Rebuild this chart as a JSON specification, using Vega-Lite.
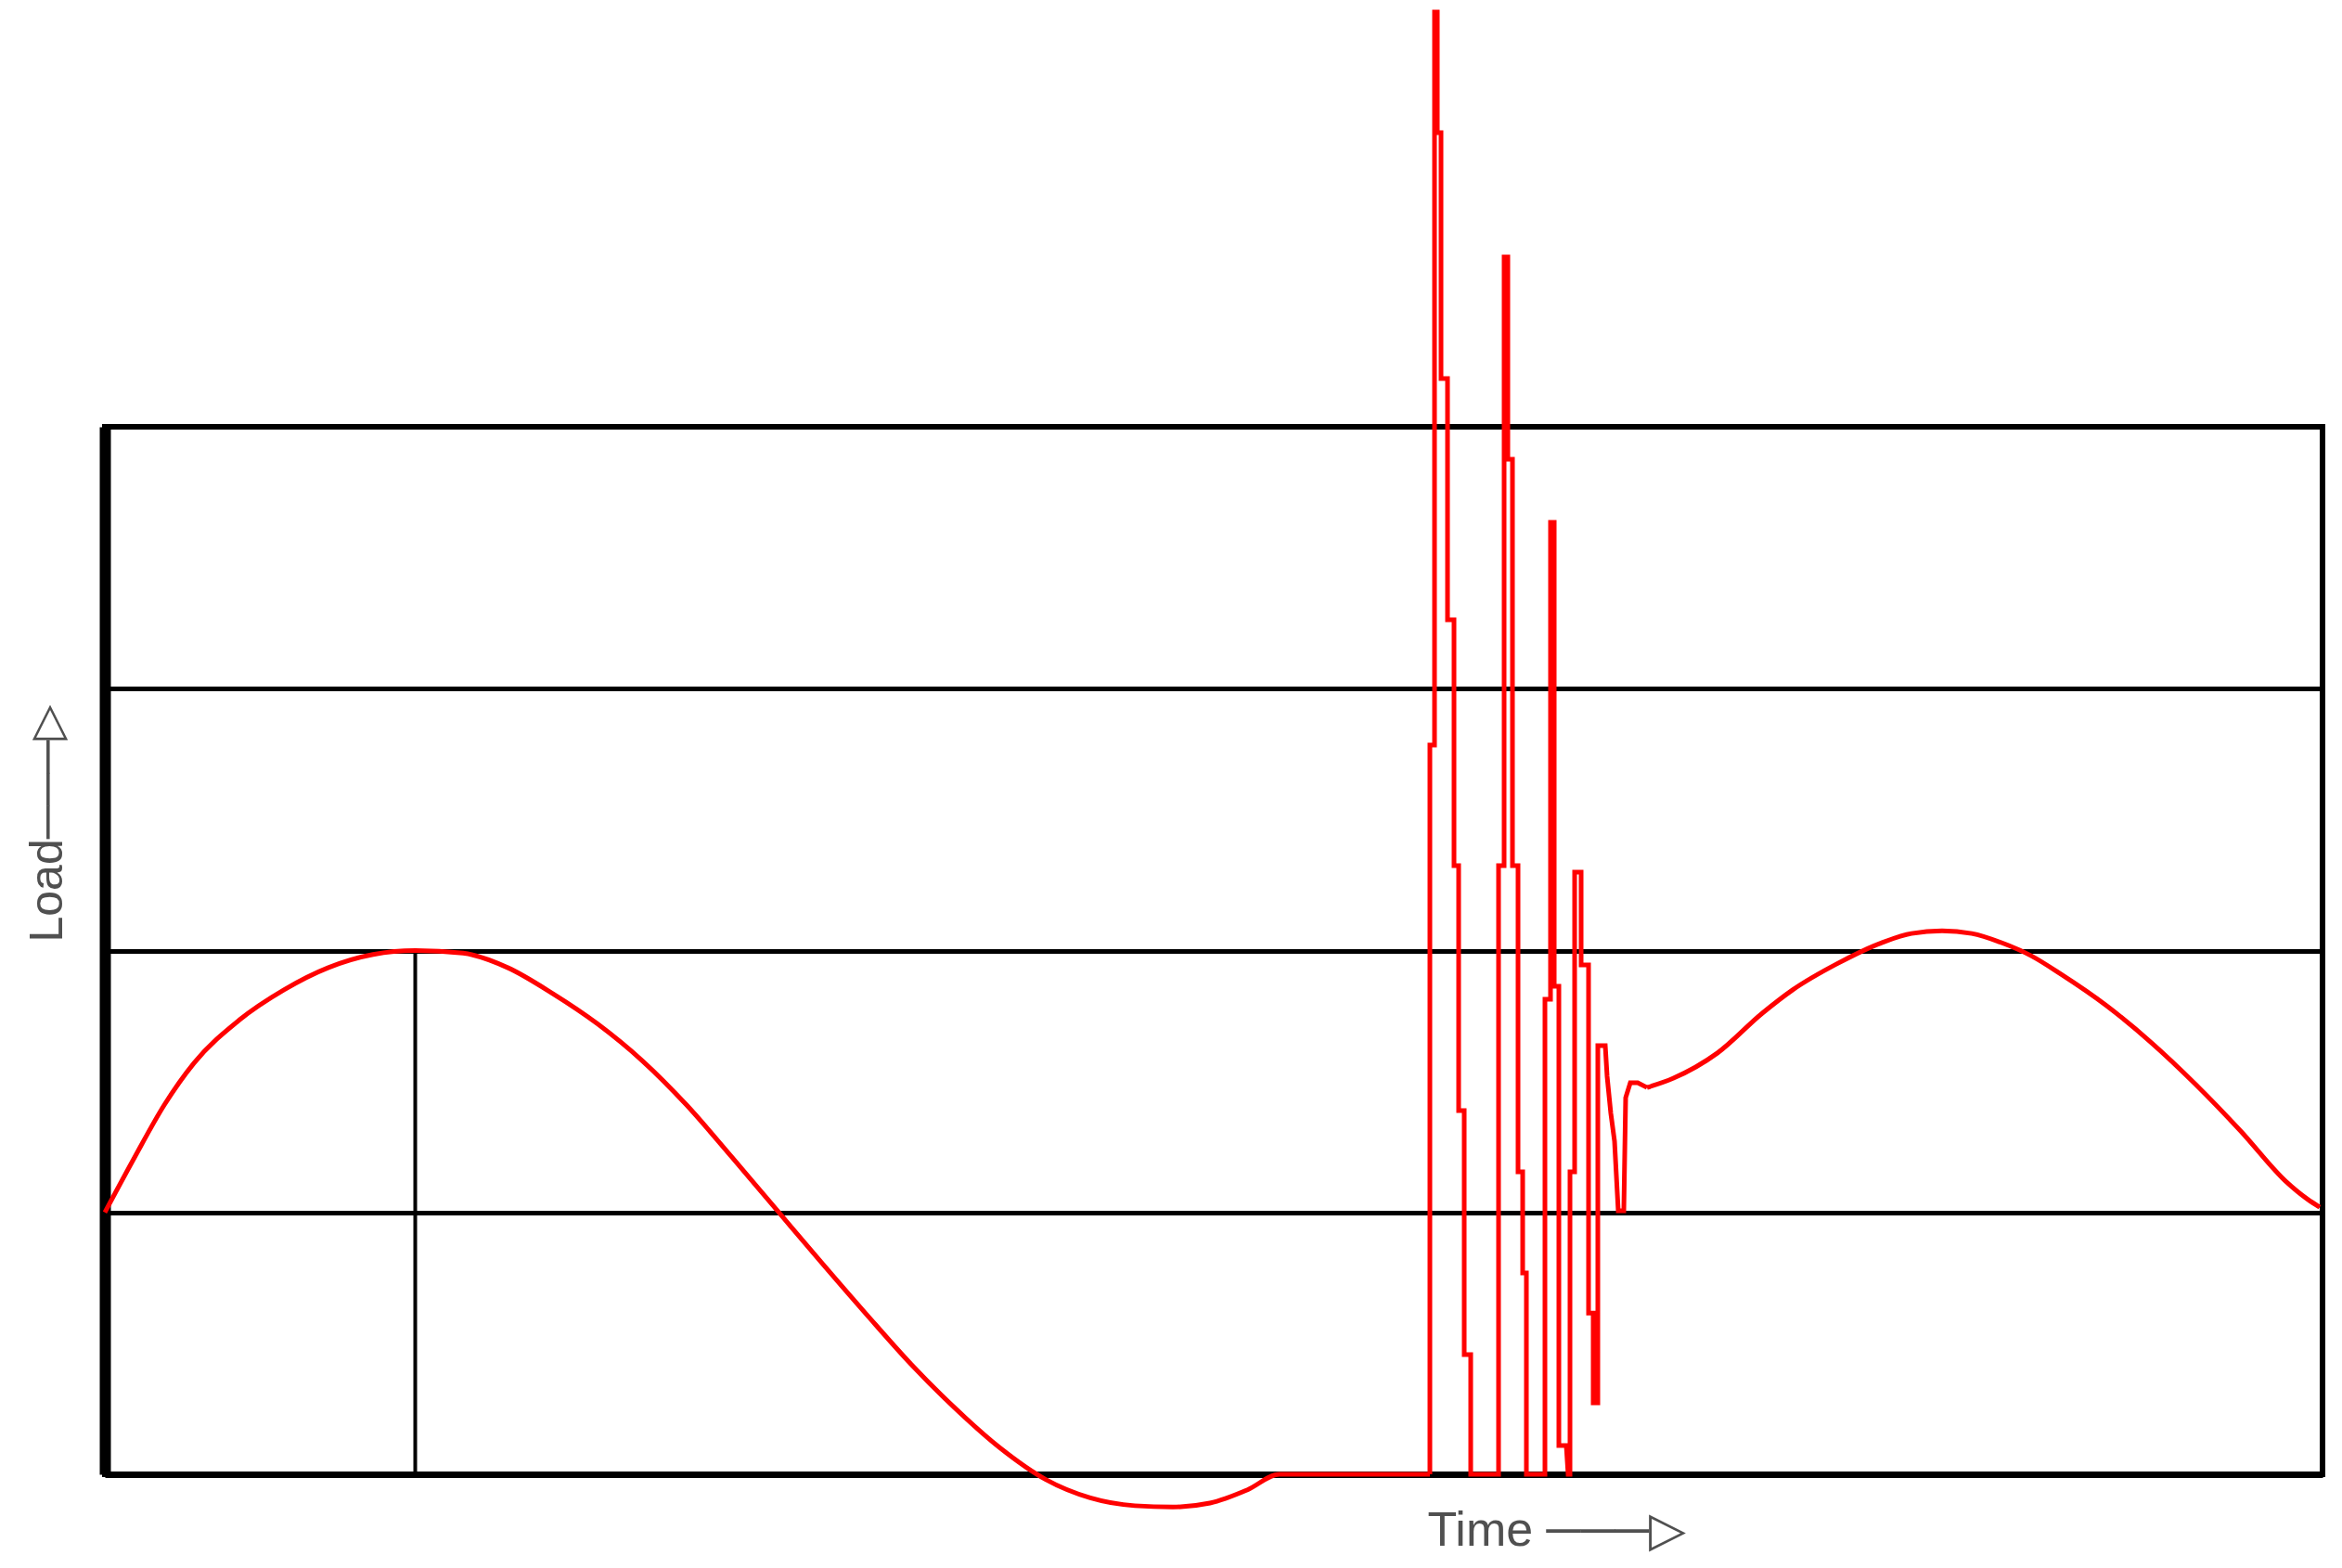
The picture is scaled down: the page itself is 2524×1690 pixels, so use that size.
{
  "$schema": "https://vega.github.io/schema/vega-lite/v6.json",
  "width": 2390,
  "height": 1129,
  "autosize": "none",
  "padding": {"left": 113, "top": 460, "right": 21, "bottom": 101},
  "background": "white",
  "config": {
    "view": {"stroke": "#000000", "strokeWidth": 6},
    "font": "Liberation Sans"
  },
  "encoding": {
    "x": {
      "field": "t", "type": "quantitative",
      "scale": {"domain": [0, 2390], "nice": false, "zero": false},
      "axis": {
        "title": "Time ───▷", "titleFont": "Liberation Sans", "titleFontSize": 52, "titleFontWeight": "normal",
        "titleColor": "#505050", "titleX": 1425, "titleY": 76, "titleAlign": "left", "titleBaseline": "alphabetic",
        "labels": false, "ticks": false, "grid": false,
        "domain": true, "domainColor": "#000000", "domainWidth": 7, "zindex": 0
      }
    },
    "y": {
      "field": "load", "type": "quantitative",
      "scale": {"domain": [0, 4], "nice": false, "zero": false},
      "axis": {
        "title": "Load───▷", "titleFont": "Liberation Sans", "titleFontSize": 50, "titleFontWeight": "normal",
        "titleColor": "#505050", "titleAngle": 270, "titleX": -62, "titleY": 555, "titleAlign": "left", "titleBaseline": "middle",
        "labels": false, "ticks": false,
        "grid": true, "values": [0, 1, 2, 3, 4], "gridColor": "#000000", "gridWidth": 5, "gridOpacity": 1,
        "domain": true, "domainColor": "#000000", "domainWidth": 12, "zindex": 0
      }
    }
  },
  "layer": [
    {
      "data": {"values": [{"t": 334.5, "load": 0, "load2": 2}]},
      "mark": {"type": "rule", "color": "#000000", "strokeWidth": 4},
      "encoding": {"y2": {"field": "load2"}}
    },
    {
      "data": {"values": [
        {"seg": "a", "t": 0, "load": 1.0}, {"seg": "a", "t": 32, "load": 1.21}, {"seg": "a", "t": 64, "load": 1.41}, {"seg": "a", "t": 96, "load": 1.57},
        {"seg": "a", "t": 145, "load": 1.735}, {"seg": "a", "t": 193, "load": 1.85}, {"seg": "a", "t": 241, "load": 1.935}, {"seg": "a", "t": 289, "load": 1.985},
        {"seg": "a", "t": 334.5, "load": 2.0}, {"seg": "a", "t": 386, "load": 1.99}, {"seg": "a", "t": 434, "load": 1.935}, {"seg": "a", "t": 483, "load": 1.835},
        {"seg": "a", "t": 531, "load": 1.72}, {"seg": "a", "t": 579, "load": 1.58}, {"seg": "a", "t": 627, "load": 1.41}, {"seg": "a", "t": 676, "load": 1.21},
        {"seg": "a", "t": 724, "load": 1.01}, {"seg": "a", "t": 772, "load": 0.81}, {"seg": "a", "t": 821, "load": 0.61}, {"seg": "a", "t": 869, "load": 0.42},
        {"seg": "a", "t": 917, "load": 0.25}, {"seg": "a", "t": 965, "load": 0.1}, {"seg": "a", "t": 1014, "load": -0.02}, {"seg": "a", "t": 1062, "load": -0.09},
        {"seg": "a", "t": 1110, "load": -0.12}, {"seg": "a", "t": 1151, "load": -0.125}, {"seg": "a", "t": 1191, "load": -0.11}, {"seg": "a", "t": 1231, "load": -0.06},
        {"seg": "a", "t": 1266, "load": 0}, {"seg": "a", "t": 1428, "load": 0},
        {"seg": "b", "t": 1662, "load": 1.477}, {"seg": "b", "t": 1690, "load": 1.512}, {"seg": "b", "t": 1738, "load": 1.609}, {"seg": "b", "t": 1786, "load": 1.76},
        {"seg": "b", "t": 1819, "load": 1.85}, {"seg": "b", "t": 1867, "load": 1.95}, {"seg": "b", "t": 1915, "load": 2.03}, {"seg": "b", "t": 1947, "load": 2.065},
        {"seg": "b", "t": 1980, "load": 2.075}, {"seg": "b", "t": 2012, "load": 2.065}, {"seg": "b", "t": 2044, "load": 2.03}, {"seg": "b", "t": 2076, "load": 1.98},
        {"seg": "b", "t": 2108, "load": 1.91}, {"seg": "b", "t": 2157, "load": 1.79}, {"seg": "b", "t": 2205, "load": 1.65}, {"seg": "b", "t": 2253, "load": 1.49},
        {"seg": "b", "t": 2302, "load": 1.31}, {"seg": "b", "t": 2350, "load": 1.12}, {"seg": "b", "t": 2374, "load": 1.05}, {"seg": "b", "t": 2387, "load": 1.02}
      ]},
      "mark": {"type": "line", "color": "#ff0000", "strokeWidth": 5, "clip": false, "interpolate": "monotone"},
      "encoding": {"detail": {"field": "seg", "type": "nominal"}}
    },
    {
      "data": {"values": [
        {"t": 1428, "load": 0},
        {"t": 1428, "load": 2.785}, {"t": 1433, "load": 2.785}, {"t": 1433, "load": 5.584}, {"t": 1436, "load": 5.584},
        {"t": 1436, "load": 5.123}, {"t": 1440, "load": 5.123}, {"t": 1440, "load": 4.184}, {"t": 1447, "load": 4.184},
        {"t": 1447, "load": 3.263}, {"t": 1454, "load": 3.263}, {"t": 1454, "load": 2.324}, {"t": 1459, "load": 2.324},
        {"t": 1459, "load": 1.389}, {"t": 1465, "load": 1.389}, {"t": 1465, "load": 0.457}, {"t": 1472, "load": 0.457},
        {"t": 1472, "load": 0}, {"t": 1502, "load": 0},
        {"t": 1502, "load": 2.324}, {"t": 1508, "load": 2.324}, {"t": 1508, "load": 4.648}, {"t": 1512, "load": 4.648},
        {"t": 1512, "load": 3.876}, {"t": 1517, "load": 3.876}, {"t": 1517, "load": 2.324}, {"t": 1523, "load": 2.324},
        {"t": 1523, "load": 1.155}, {"t": 1528, "load": 1.155}, {"t": 1528, "load": 0.769}, {"t": 1532, "load": 0.769},
        {"t": 1532, "load": 0}, {"t": 1552, "load": 0},
        {"t": 1552, "load": 1.814}, {"t": 1558, "load": 1.814}, {"t": 1558, "load": 3.635}, {"t": 1562, "load": 3.635},
        {"t": 1562, "load": 1.864}, {"t": 1567, "load": 1.864}, {"t": 1567, "load": 0.11}, {"t": 1575, "load": 0.11},
        {"t": 1577, "load": 0}, {"t": 1579, "load": 0},
        {"t": 1579, "load": 1.155}, {"t": 1584, "load": 1.155}, {"t": 1584, "load": 2.299}, {"t": 1591, "load": 2.299},
        {"t": 1591, "load": 1.945}, {"t": 1599, "load": 1.945}, {"t": 1599, "load": 0.616}, {"t": 1604, "load": 0.616},
        {"t": 1604, "load": 0.273}, {"t": 1609, "load": 0.273}, {"t": 1609, "load": 1.637}, {"t": 1617, "load": 1.637},
        {"t": 1619, "load": 1.52}, {"t": 1623, "load": 1.378}, {"t": 1627, "load": 1.272}, {"t": 1631, "load": 1.006},
        {"t": 1637, "load": 1.006}, {"t": 1639, "load": 1.438}, {"t": 1644, "load": 1.495}, {"t": 1652, "load": 1.495},
        {"t": 1662, "load": 1.477}
      ]},
      "mark": {"type": "line", "color": "#ff0000", "strokeWidth": 5, "clip": false, "strokeJoin": "miter"},
      "encoding": {"order": {"value": null}}
    }
  ]
}
